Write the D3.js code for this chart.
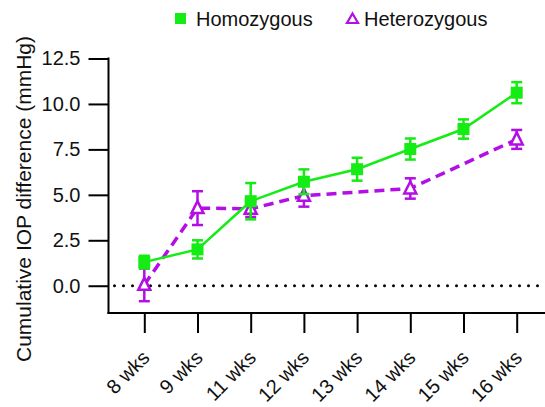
<!DOCTYPE html>
<html><head><meta charset="utf-8">
<script src="https://cdn.jsdelivr.net/npm/d3@7"></script>
<style>html,body{margin:0;padding:0;background:#fff;}svg{display:block;font-family:Arial,"Liberation Sans",sans-serif;}</style>
</head><body>
<svg id="c" width="545" height="407"></svg>
<script>
const categories = ["8 wks","9 wks","11 wks","12 wks","13 wks","14 wks","15 wks","16 wks"];
const homoMean = [1.3, 2.0, 4.65, 5.72, 6.41, 7.52, 8.62, 10.62];
const homoErr  = [0.35, 0.5, 1.0, 0.68, 0.63, 0.58, 0.53, 0.58];
const hetMean  = [0.05, 4.27, 4.23, 4.95, null, 5.35, null, 8.05];
const hetErr   = [0.9, 0.93, 0.45, 0.6, null, 0.56, null, 0.52];
const yTicks = [0, 2.5, 5, 7.5, 10, 12.5];
const seriesNames = ["Homozygous", "Heterozygous"];

const green = "#14ec14", purple = "#b30ee6";
const svg = d3.select("#c");
const x = d3.scalePoint().domain(categories).range([144.3, 516.7]);
const y = d3.scaleLinear().domain([-1.5, 12.5]).range([313, 58.5]);
const axisX0 = 108.5;

// y axis
const ya = svg.append("g").attr("transform", `translate(${axisX0},0)`)
  .call(d3.axisLeft(y).tickValues(yTicks).tickFormat(d3.format(".1f")).tickSize(20).tickPadding(8).tickSizeOuter(0));
ya.select(".domain").remove();
ya.selectAll(".tick line").attr("stroke", "#000").attr("stroke-width", 2);
ya.selectAll(".tick text").attr("font-size", 20).attr("fill", "#111").attr("font-family", "Arial, 'Liberation Sans', sans-serif");
svg.append("line").attr("x1", axisX0).attr("x2", axisX0).attr("y1", y(12.5) - 1).attr("y2", y(-1.5) + 1)
  .attr("stroke", "#000").attr("stroke-width", 2);

// x axis
const xa = svg.append("g").attr("transform", `translate(0,${y(-1.5)})`)
  .call(d3.axisBottom(x).tickSize(20).tickSizeOuter(0));
xa.select(".domain").remove();
xa.selectAll(".tick line").attr("stroke", "#000").attr("stroke-width", 2);
xa.selectAll(".tick text").attr("font-size", 20).attr("fill", "#111")
  .attr("font-family", "Arial, 'Liberation Sans', sans-serif")
  .attr("text-anchor", "end").attr("dy", 0).attr("y", 0)
  .attr("transform", "translate(6,46) rotate(-45)");
svg.append("line").attr("x1", axisX0 - 1).attr("x2", 545).attr("y1", y(-1.5)).attr("y2", y(-1.5))
  .attr("stroke", "#000").attr("stroke-width", 2);

// zero dotted line
svg.append("line").attr("x1", axisX0 + 6).attr("x2", 545).attr("y1", y(0)).attr("y2", y(0))
  .attr("stroke", "#000").attr("stroke-width", 3).attr("stroke-dasharray", "0 9").attr("stroke-linecap", "round");

// y label
svg.append("text").attr("transform", `translate(31,199) rotate(-90)`)
  .attr("text-anchor", "middle").attr("font-size", 21).attr("fill", "#111")
  .text("Cumulative IOP difference (mmHg)");

function drawSeries(means, errs, color, dashed, marker) {
  const pts = categories.map((c, i) => ({c, m: means[i], e: errs[i]})).filter(d => d.m != null);
  const g = svg.append("g");
  g.append("path").datum(pts)
    .attr("d", d3.line().x(d => x(d.c)).y(d => y(d.m)))
    .attr("fill", "none").attr("stroke", color)
    .attr("stroke-width", dashed ? 3.5 : 2.5)
    .attr("stroke-dasharray", dashed ? "10 6" : null);
  const eb = g.selectAll(".eb").data(pts).enter().append("g");
  eb.append("line").attr("x1", d => x(d.c)).attr("x2", d => x(d.c))
    .attr("y1", d => y(d.m + d.e)).attr("y2", d => y(d.m - d.e)).attr("stroke", color).attr("stroke-width", 2.5);
  [1, -1].forEach(s => {
    eb.append("line").attr("x1", d => x(d.c) - 5.5).attr("x2", d => x(d.c) + 5.5)
      .attr("y1", d => y(d.m + s * d.e)).attr("y2", d => y(d.m + s * d.e)).attr("stroke", color).attr("stroke-width", 2.5);
  });
  if (marker === "square") {
    g.selectAll(".mk").data(pts).enter().append("rect")
      .attr("x", d => x(d.c) - 6).attr("y", d => y(d.m) - 6).attr("width", 12).attr("height", 12).attr("fill", color);
  } else {
    g.selectAll(".mk").data(pts).enter().append("path")
      .attr("d", d => { const cx = x(d.c), cy = y(d.m); return `M${cx},${cy-7}L${cx+6},${cy+5}L${cx-6},${cy+5}Z`; })
      .attr("fill", "#fff").attr("stroke", color).attr("stroke-width", 2.5).attr("stroke-linejoin", "miter");
  }
}
drawSeries(hetMean, hetErr, purple, true, "triangle");
drawSeries(homoMean, homoErr, green, false, "square");

// legend
const lg = svg.append("g");
lg.append("rect").attr("x", 175).attr("y", 13).attr("width", 11).attr("height", 11).attr("fill", green);
lg.append("text").attr("x", 196).attr("y", 26).attr("font-size", 20).attr("fill", "#111").text(seriesNames[0]);
lg.append("path").attr("d", "M352.5,13.5L358,23L347,23Z").attr("fill", "none").attr("stroke", purple).attr("stroke-width", 2.2);
lg.append("text").attr("x", 364).attr("y", 26).attr("font-size", 20).attr("fill", "#111").text(seriesNames[1]);
</script>
</body></html>
